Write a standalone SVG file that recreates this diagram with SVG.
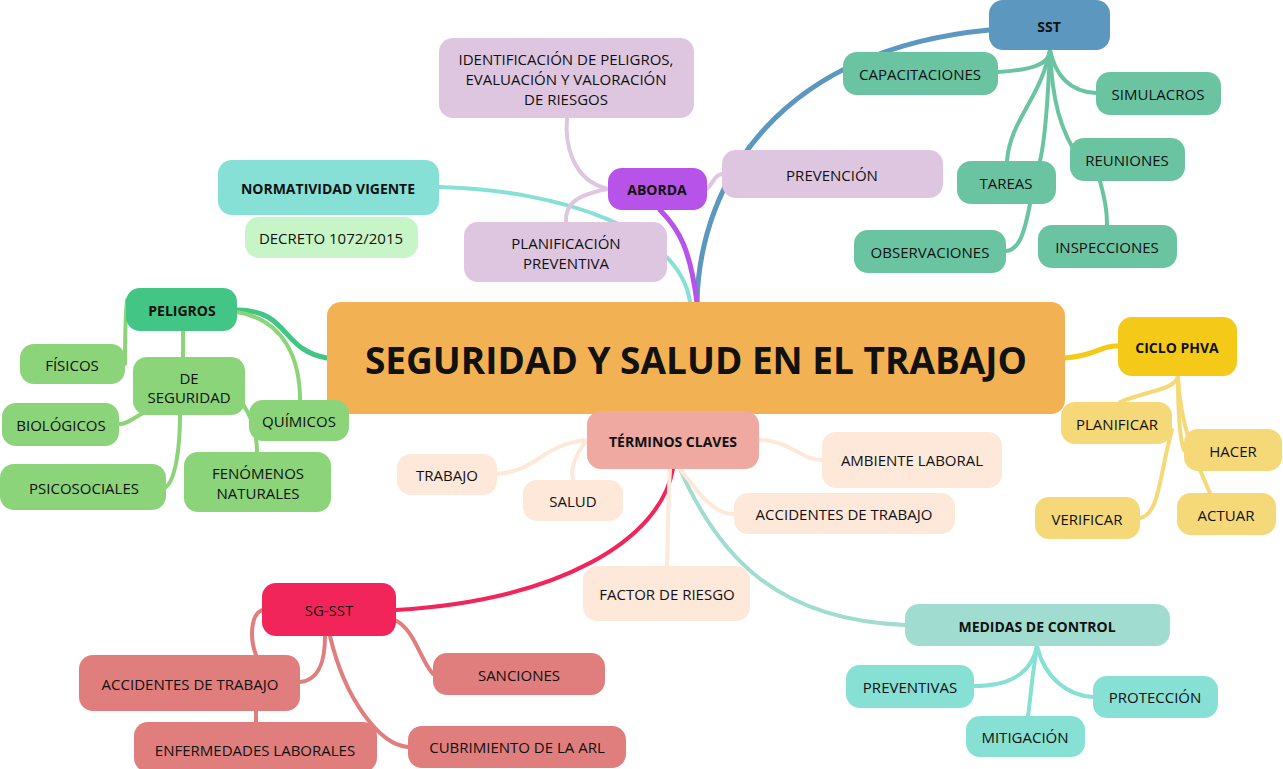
<svg xmlns="http://www.w3.org/2000/svg" width="1283" height="769" viewBox="0 0 1283 769">
<style>
text{font-family:"Open Sans","Noto Sans",sans-serif;font-size:15px;fill:#111;text-anchor:middle;dominant-baseline:central}
.b{font-weight:bold;font-size:14px}
.c path{fill:none;stroke-linecap:round}
</style>
<rect width="1283" height="769" fill="#fff"/>
<g class="c" id="connectors">
<path d="M697 302 C700 180 780 50 989 30" stroke="#5B97BE" stroke-width="5"/>
<path d="M697 302 C690 250 680 230 660 210" stroke="#B753E8" stroke-width="5"/>
<path d="M690 302 C680 230 560 190 439 187" stroke="#86E0D6" stroke-width="4"/>
<path d="M327 358 C280 350 290 310 237 310" stroke="#43C585" stroke-width="5"/>
<path d="M1065 358 C1100 355 1100 345 1118 346" stroke="#F5C918" stroke-width="5"/>
<path d="M673 469 C660 540 560 600 396 610" stroke="#F2255B" stroke-width="4"/>
<path d="M680 469 C720 560 780 620 905 625" stroke="#A0DDD0" stroke-width="4"/>
<g stroke="#6AC4A2" stroke-width="4">
<path d="M1050 50 C1050 65 1030 70 998 72"/>
<path d="M1050 50 C1055 75 1070 92 1096 93"/>
<path d="M1050 50 C1052 100 1060 130 1080 160"/>
<path d="M1050 50 C1040 100 1010 120 1007 161"/>
<path d="M1050 50 C1048 100 1045 140 1040 161"/>
<path d="M1030 204 C1025 230 1020 250 1006 251"/>
<path d="M1100 181 C1105 200 1107 210 1107 225"/>
</g>
<g stroke="#DEC6E0" stroke-width="4">
<path d="M608 189 C570 180 565 140 567 118"/>
<path d="M707 189 C715 180 715 175 722 174"/>
<path d="M608 189 C575 195 565 205 566 222"/>
</g>
<g stroke="#8BD47A" stroke-width="4">
<path d="M237 312 C285 320 300 360 300 400"/>
<path d="M127 300 C125 320 125 345 125 364"/>
<path d="M183 331 L183 357"/>
<path d="M145 412 C130 420 125 425 119 424"/>
<path d="M180 415 C180 450 175 480 166 487"/>
<path d="M240 400 C255 420 257 440 257 452"/>
</g>
<g stroke="#F5D978" stroke-width="4">
<path d="M1178 376 C1175 390 1150 390 1120 402"/>
<path d="M1178 376 C1178 420 1180 440 1184 450"/>
<path d="M1178 376 C1180 430 1200 470 1210 493"/>
<path d="M1172 430 C1160 470 1160 515 1140 518"/>
</g>
<g stroke="#FDE8DA" stroke-width="4">
<path d="M587 440 C540 445 540 470 497 474"/>
<path d="M587 440 C575 455 570 470 573 480"/>
<path d="M759 440 C790 440 800 460 822 460"/>
<path d="M680 469 C700 495 715 515 734 514"/>
<path d="M670 469 C668 500 668 540 667 566"/>
</g>
<g stroke="#E07E7E" stroke-width="4">
<path d="M262 610 C250 615 250 640 256 655"/>
<path d="M300 682 C320 680 325 660 325 636"/>
<path d="M256 711 L256 722"/>
<path d="M395 620 C415 630 420 660 433 674"/>
<path d="M330 636 C345 700 380 745 408 747"/>
</g>
<g stroke="#87E0D4" stroke-width="4">
<path d="M1037 646 C1030 680 1000 686 974 686"/>
<path d="M1037 646 C1045 680 1070 696 1093 697"/>
<path d="M1037 646 C1030 690 1030 705 1028 716"/>
</g>
</g>
<g id="central"><rect x="327" y="302" width="738" height="112" rx="14" fill="#F2B254"/><text x="696" y="359" style="font-weight:bold;font-size:37px">SEGURIDAD Y SALUD EN EL TRABAJO</text></g>
<g id="sst"><rect x="989" y="0" width="121" height="50" rx="14" fill="#5B97BE"/><text class="b" x="1049" y="26">SST</text></g>
<g id="capacitaciones"><rect x="843" y="52" width="155" height="43" rx="14" fill="#6AC4A2"/><text x="920" y="74">CAPACITACIONES</text></g>
<g id="simulacros"><rect x="1096" y="72" width="125" height="43" rx="14" fill="#6AC4A2"/><text x="1158" y="94">SIMULACROS</text></g>
<g id="reuniones"><rect x="1070" y="138" width="115" height="43" rx="14" fill="#6AC4A2"/><text x="1127" y="160">REUNIONES</text></g>
<g id="tareas"><rect x="957" y="161" width="99" height="43" rx="14" fill="#6AC4A2"/><text x="1006" y="183">TAREAS</text></g>
<g id="observaciones"><rect x="854" y="230" width="152" height="43" rx="14" fill="#6AC4A2"/><text x="930" y="252">OBSERVACIONES</text></g>
<g id="inspecciones"><rect x="1038" y="225" width="139" height="43" rx="14" fill="#6AC4A2"/><text x="1107" y="247">INSPECCIONES</text></g>
<g id="identificacion"><rect x="439" y="38" width="255" height="80" rx="14" fill="#DEC6E0"/><text x="566" y="59">IDENTIFICACIÓN DE PELIGROS,</text><text x="566" y="79">EVALUACIÓN Y VALORACIÓN</text><text x="566" y="99">DE RIESGOS</text></g>
<g id="aborda"><rect x="608" y="168" width="99" height="42" rx="14" fill="#B753E8"/><text class="b" x="657" y="189">ABORDA</text></g>
<g id="prevencion"><rect x="722" y="150" width="221" height="48" rx="14" fill="#DEC6E0"/><text x="832" y="175">PREVENCIÓN</text></g>
<g id="normatividad"><rect x="218" y="160" width="221" height="55" rx="14" fill="#86E0D6"/><text class="b" x="328" y="188">NORMATIVIDAD VIGENTE</text></g>
<g id="decreto"><rect x="245" y="217" width="173" height="41" rx="14" fill="#C8F5C8"/><text x="331" y="238">DECRETO 1072/2015</text></g>
<g id="planificacion"><rect x="464" y="222" width="203" height="60" rx="14" fill="#DEC6E0"/><text x="566" y="243">PLANIFICACIÓN</text><text x="566" y="263">PREVENTIVA</text></g>
<g id="peligros"><rect x="126" y="288" width="111" height="43" rx="14" fill="#43C585"/><text class="b" x="182" y="310">PELIGROS</text></g>
<g id="fisicos"><rect x="20" y="344" width="105" height="40" rx="14" fill="#8BD47A"/><text x="72" y="365">FÍSICOS</text></g>
<g id="deseguridad"><rect x="133" y="357" width="112" height="58" rx="14" fill="#8BD47A"/><text x="189" y="378">DE</text><text x="189" y="397">SEGURIDAD</text></g>
<g id="biologicos"><rect x="2" y="403" width="117" height="43" rx="14" fill="#8BD47A"/><text x="61" y="425">BIOLÓGICOS</text></g>
<g id="quimicos"><rect x="249" y="400" width="100" height="41" rx="14" fill="#8BD47A"/><text x="299" y="421">QUÍMICOS</text></g>
<g id="psicosociales"><rect x="0" y="464" width="166" height="46" rx="14" fill="#8BD47A"/><text x="84" y="488">PSICOSOCIALES</text></g>
<g id="fenomenos"><rect x="184" y="452" width="147" height="60" rx="14" fill="#8BD47A"/><text x="258" y="473">FENÓMENOS</text><text x="258" y="493">NATURALES</text></g>
<g id="ciclo"><rect x="1118" y="317" width="119" height="59" rx="14" fill="#F5C918"/><text class="b" x="1177" y="347">CICLO PHVA</text></g>
<g id="planificar"><rect x="1061" y="402" width="111" height="42" rx="14" fill="#F5D978"/><text x="1117" y="424">PLANIFICAR</text></g>
<g id="hacer"><rect x="1184" y="429" width="98" height="42" rx="14" fill="#F5D978"/><text x="1233" y="451">HACER</text></g>
<g id="verificar"><rect x="1035" y="497" width="105" height="42" rx="14" fill="#F5D978"/><text x="1087" y="519">VERIFICAR</text></g>
<g id="actuar"><rect x="1177" y="493" width="99" height="42" rx="14" fill="#F5D978"/><text x="1226" y="515">ACTUAR</text></g>
<g id="terminos"><rect x="587" y="411" width="172" height="58" rx="14" fill="#EFA9A0"/><text class="b" x="673" y="441">TÉRMINOS CLAVES</text></g>
<g id="trabajo"><rect x="397" y="454" width="100" height="41" rx="14" fill="#FDE8DA"/><text x="447" y="475">TRABAJO</text></g>
<g id="salud"><rect x="523" y="480" width="100" height="41" rx="14" fill="#FDE8DA"/><text x="573" y="501">SALUD</text></g>
<g id="ambiente"><rect x="822" y="432" width="180" height="56" rx="14" fill="#FDE8DA"/><text x="912" y="460">AMBIENTE LABORAL</text></g>
<g id="accidentes1"><rect x="734" y="493" width="221" height="41" rx="14" fill="#FDE8DA"/><text x="844" y="514">ACCIDENTES DE TRABAJO</text></g>
<g id="factor"><rect x="583" y="566" width="167" height="55" rx="14" fill="#FDE8DA"/><text x="667" y="594">FACTOR DE RIESGO</text></g>
<g id="medidas"><rect x="905" y="604" width="265" height="42" rx="14" fill="#A0DDD0"/><text class="b" x="1037" y="626">MEDIDAS DE CONTROL</text></g>
<g id="preventivas"><rect x="846" y="665" width="128" height="43" rx="14" fill="#87E0D4"/><text x="910" y="687">PREVENTIVAS</text></g>
<g id="proteccion"><rect x="1093" y="676" width="125" height="42" rx="14" fill="#87E0D4"/><text x="1155" y="697">PROTECCIÓN</text></g>
<g id="mitigacion"><rect x="966" y="716" width="119" height="41" rx="14" fill="#87E0D4"/><text x="1025" y="737">MITIGACIÓN</text></g>
<g id="sgsst"><rect x="262" y="583" width="134" height="53" rx="14" fill="#F2255B"/><text x="329" y="610">SG-SST</text></g>
<g id="accidentes2"><rect x="79" y="655" width="221" height="56" rx="14" fill="#E07E7E"/><text x="190" y="684">ACCIDENTES DE TRABAJO</text></g>
<g id="sanciones"><rect x="433" y="653" width="172" height="42" rx="14" fill="#E07E7E"/><text x="519" y="675">SANCIONES</text></g>
<g id="enfermedades"><rect x="134" y="722" width="243" height="50" rx="14" fill="#E07E7E"/><text x="255" y="750">ENFERMEDADES LABORALES</text></g>
<g id="cubrimiento"><rect x="408" y="726" width="218" height="42" rx="14" fill="#E07E7E"/><text x="517" y="747">CUBRIMIENTO DE LA ARL</text></g>
</svg>
